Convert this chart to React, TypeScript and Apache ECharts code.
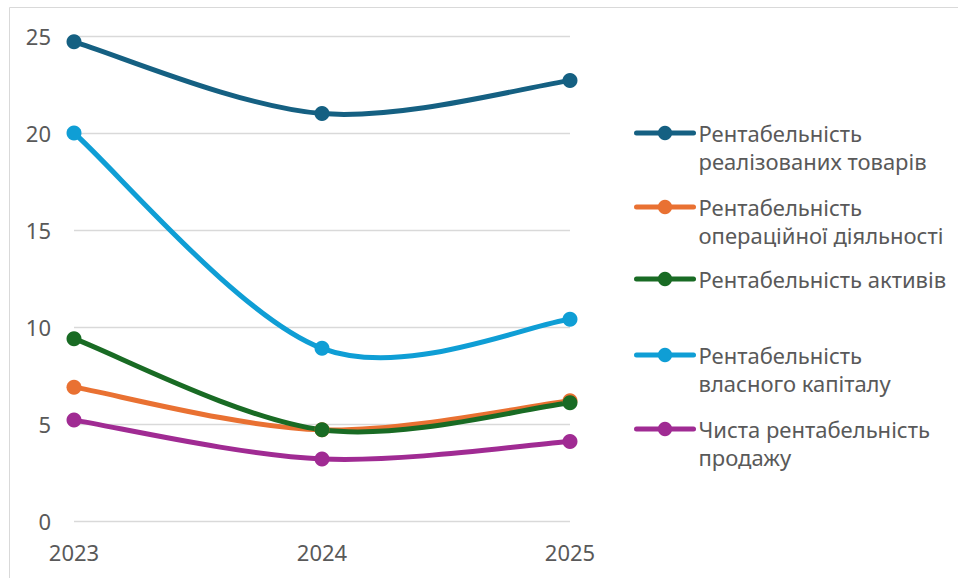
import { useEffect, useRef } from "react";
import * as echarts from "echarts";

// Categories and tick settings
const years = ["2023", "2024", "2025"];
const yMin = 0;
const yMax = 25;
const yStep = 5;

// Series names and legend wrapping
const seriesNames = [
  "Рентабельність реалізованих товарів",
  "Рентабельність операційної діяльності",
  "Рентабельність активів",
  "Рентабельність власного капіталу",
  "Чиста рентабельність продажу",
];
const legendLines = [
  ["Рентабельність", "реалізованих товарів"],
  ["Рентабельність", "операційної діяльності"],
  ["Рентабельність активів"],
  ["Рентабельність", "власного капіталу"],
  ["Чиста рентабельність", "продажу"],
];
const colors = ["#156082", "#E97132", "#196B24", "#0F9ED5", "#A02B93"];

// Values, %
const goodsReturn = [24.7, 21.0, 22.7];
const operatingReturn = [6.9, 4.7, 6.2];
const assetsReturn = [9.4, 4.7, 6.1];
const equityReturn = [20.0, 8.9, 10.4];
const netSalesReturn = [5.2, 3.2, 4.1];
const seriesValues = [goodsReturn, operatingReturn, assetsReturn, equityReturn, netSalesReturn];

const FONT = "'Noto Sans', sans-serif";
const TEXT = "#595959";
const FS = 22;
const LINE_H = 28;
const LINE_W = 5;
const legendIconY = [133, 207, 279, 355, 429];

// Catmull-Rom style cubic segments through the projected points
function smoothCurve(values: number[], color: string) {
  return (params: any, api: any) => {
    if (params.dataIndex !== 0) return null;
    const pts = values.map((v, k) => api.coord([k, v]));
    const n = pts.length;
    const children: any[] = [];
    for (let k = 0; k < n - 1; k++) {
      const p0 = pts[Math.max(k - 1, 0)];
      const p1 = pts[k];
      const p2 = pts[k + 1];
      const p3 = pts[Math.min(k + 2, n - 1)];
      children.push({
        type: "bezierCurve",
        shape: {
          x1: p1[0],
          y1: p1[1],
          x2: p2[0],
          y2: p2[1],
          cpx1: p1[0] + (p2[0] - p0[0]) / 6,
          cpy1: p1[1] + (p2[1] - p0[1]) / 6,
          cpx2: p2[0] - (p3[0] - p1[0]) / 6,
          cpy2: p2[1] - (p3[1] - p1[1]) / 6,
        },
        style: { stroke: color, lineWidth: LINE_W, fill: "none", lineCap: "round" },
      });
    }
    return { type: "group", children };
  };
}

export default function App() {
  const ref = useRef<HTMLDivElement>(null);

  useEffect(() => {
    if (!ref.current) return;
    const chart = echarts.init(ref.current, undefined, { renderer: "svg" });

    // One legend block per series; two-line entries get an empty leading
    // line so the first visible line sits level with the icon.
    const legends = seriesNames.map((name, i) => {
      const lines = legendLines[i];
      const twoLines = lines.length > 1;
      const blockH = twoLines ? LINE_H * 3 : LINE_H;
      return {
        data: [name],
        orient: "vertical",
        left: 634,
        top: legendIconY[i] - blockH / 2,
        padding: 0,
        itemWidth: 57,
        itemHeight: 18,
        selectedMode: false,
        lineStyle: { width: 5, color: colors[i], opacity: 1, cap: "round" },
        formatter: () => (twoLines ? "\n" : "") + lines.join("\n"),
        textStyle: {
          fontFamily: FONT,
          fontSize: FS,
          color: TEXT,
          lineHeight: LINE_H,
        },
      };
    });

    const curves = seriesValues.map((vals, i) => ({
      type: "custom",
      data: vals.map((v, k) => [k, v]),
      encode: { x: 0, y: 1 },
      renderItem: smoothCurve(vals, colors[i]),
      z: 2,
      silent: true,
    }));

    const markers = seriesNames.map((name, i) => ({
      name,
      type: "line",
      data: seriesValues[i],
      symbol: "circle",
      symbolSize: 15,
      color: colors[i],
      lineStyle: { width: LINE_W, color: colors[i], opacity: 0 },
      itemStyle: { color: colors[i] },
      z: 3,
    }));

    chart.setOption({
      animation: false,
      backgroundColor: "#ffffff",
      textStyle: { fontFamily: FONT },
      graphic: [
        {
          type: "rect",
          shape: { x: 9.5, y: 7.5, width: 1200, height: 1200 },
          style: { fill: "none", stroke: "#d9d9d9", lineWidth: 1 },
          silent: true,
        },
      ],
      grid: { left: 74, right: 388, top: 36, bottom: 57 },
      legend: legends,
      xAxis: {
        type: "category",
        data: years,
        boundaryGap: false,
        axisLine: { show: false },
        axisTick: { show: false },
        axisLabel: { color: TEXT, fontSize: FS, fontFamily: FONT, margin: 20 },
      },
      yAxis: {
        type: "value",
        min: yMin,
        max: yMax,
        interval: yStep,
        axisLine: { show: false },
        axisTick: { show: false },
        axisLabel: { color: TEXT, fontSize: FS, fontFamily: FONT, margin: 23 },
        splitLine: { lineStyle: { color: "#d9d9d9", width: 1.3 } },
      },
      series: [...curves, ...markers],
    });

    return () => chart.dispose();
  }, []);

  return (
    <div
      ref={ref}
      style={{ position: "absolute", left: 0, top: 0, width: 958, height: 578 }}
    />
  );
}
